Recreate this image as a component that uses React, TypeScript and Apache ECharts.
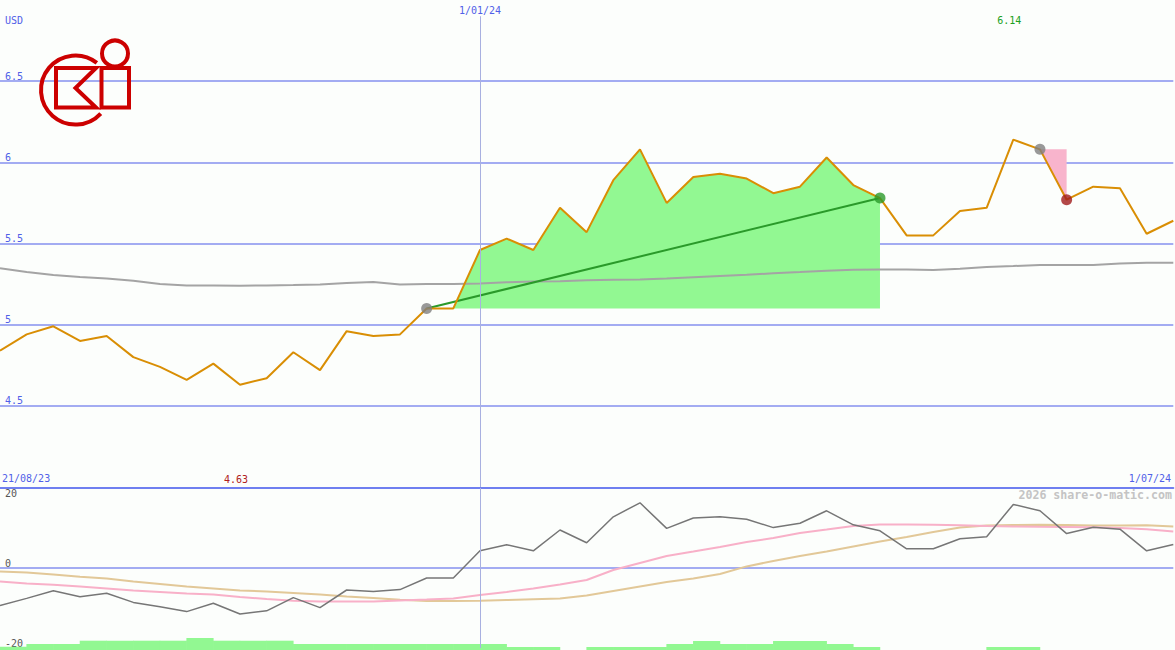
import React, { useEffect, useRef } from 'react';
import * as echarts from 'echarts';

// ---- data ----
const dates = [
  '28/08/23', '4/09/23', '11/09/23', '18/09/23', '25/09/23',
  '2/10/23', '9/10/23', '16/10/23', '23/10/23', '30/10/23',
  '6/11/23', '13/11/23', '20/11/23', '27/11/23',
  '4/12/23', '11/12/23', '18/12/23', '25/12/23',
  '1/01/24', '8/01/24', '15/01/24', '22/01/24', '29/01/24',
  '5/02/24', '12/02/24', '19/02/24', '26/02/24',
  '4/03/24', '11/03/24', '18/03/24', '25/03/24',
  '1/04/24', '8/04/24', '15/04/24', '22/04/24', '29/04/24',
  '6/05/24', '13/05/24', '20/05/24', '27/05/24',
  '3/06/24', '10/06/24', '17/06/24', '24/06/24',
  '1/07/24',
];
const rangeStartLabel = '21/08/23';
const markerDate = '1/01/24';
const currency = 'USD';
const watermark = '2026 share-o-matic.com';

const price = [
  4.84, 4.94, 4.99, 4.90, 4.93, 4.80, 4.74, 4.66, 4.76, 4.63,
  4.67, 4.83, 4.72, 4.96, 4.93, 4.94, 5.10, 5.10, 5.46, 5.53,
  5.46, 5.72, 5.57, 5.89, 6.08, 5.75, 5.91, 5.93, 5.90, 5.81,
  5.85, 6.03, 5.86, 5.78, 5.55, 5.55, 5.70, 5.72, 6.14, 6.08,
  5.77, 5.85, 5.84, 5.56, 5.64,
];
const movingAvg = [
  5.347, 5.324, 5.306, 5.294, 5.284, 5.271, 5.250, 5.241, 5.241, 5.239,
  5.242, 5.244, 5.247, 5.257, 5.263, 5.247, 5.250, 5.250, 5.254, 5.261,
  5.266, 5.267, 5.273, 5.276, 5.279, 5.284, 5.292, 5.300, 5.307, 5.317,
  5.324, 5.332, 5.339, 5.340, 5.340, 5.337, 5.345, 5.355, 5.361, 5.368,
  5.368, 5.368, 5.377, 5.382, 5.382,
];
const momentum = [
  -9.4, -7.6, -5.7, -7.2, -6.3, -8.6, -9.7, -10.9, -8.8, -11.5,
  -10.7, -7.4, -9.9, -5.5, -5.9, -5.4, -2.5, -2.5, 4.3, 5.8,
  4.3, 9.5, 6.3, 12.8, 16.3, 9.9, 12.5, 12.8, 12.2, 10.1,
  11.2, 14.3, 10.8, 9.3, 4.8, 4.8, 7.3, 7.8, 15.9, 14.3,
  8.6, 10.2, 9.7, 4.3, 5.9,
];
const signalFast = [
  -3.4, -3.9, -4.2, -4.6, -5.1, -5.6, -6.0, -6.4, -6.6, -7.25,
  -7.75, -8.2, -8.4, -8.4, -8.4, -8.1, -7.9, -7.6, -6.75, -6.0,
  -5.1, -4.1, -3.0, -0.5, 1.25, 3.0, 4.1, 5.25, 6.5, 7.5,
  8.75, 9.6, 10.5, 10.9, 10.9, 10.8, 10.7, 10.5, 10.4, 10.3,
  10.25, 10.2, 10.0, 9.7, 9.1,
];
const signalSlow = [
  -0.9, -1.1, -1.6, -2.2, -2.6, -3.4, -4.0, -4.6, -5.1, -5.6,
  -5.9, -6.25, -6.6, -7.1, -7.5, -7.95, -8.25, -8.25, -8.2, -8.0,
  -7.8, -7.6, -6.9, -5.75, -4.6, -3.5, -2.6, -1.5, 0.4, 1.75,
  3.0, 4.1, 5.4, 6.6, 7.75, 9.0, 10.1, 10.6, 10.75, 10.8,
  10.75, 10.6, 10.6, 10.7, 10.4,
];
// weekly volume (relative units), each bar covers the week after its date
const volume = [
  1.1, 2, 2, 3.1, 3.1, 3.1, 3.1, 4, 3.1, 3.1,
  3.1, 2, 2, 2, 2, 2, 2, 2, 2, 1,
  1, 0, 1, 1, 1, 2, 3, 2, 2, 3,
  3, 2, 1, 0, 0, 0, 0, 1, 1, 0,
  0, 0, 0, 0, 0,
];
const priceTicks = [4.5, 5, 5.5, 6, 6.5];
const momentumTicks = [-20, 0, 20];
const gainStart = 16;
const gainEnd = 33;
const dropStart = 39;
const dropEnd = 40;

const MONO = '"DejaVu Sans Mono", monospace';
const BLUE_TEXT = '#5060e8';
const GRID_LINE = '#a3acf2';
const RED = '#cc0000';
const PLOT_W = 1173.3;

export default function App() {
  const ref = useRef<HTMLDivElement>(null);

  useEffect(() => {
    if (!ref.current) return;
    const chart = echarts.init(ref.current, undefined, { renderer: 'svg' });

    const gainData = price.map((v, i) => (i >= gainStart && i <= gainEnd ? v : '-'));
    const dropData = price.map((v, i) => (i >= dropStart && i <= dropEnd ? v : '-'));
    const trendData = price.map((v, i) => (i === gainStart || i === gainEnd ? v : '-'));
    const volumeData = volume.map((v, i) => [i + 0.5, v]);
    let maxI = 0;
    let minI = 0;
    price.forEach((v, i) => {
      if (v > price[maxI]) maxI = i;
      if (v < price[minI]) minI = i;
    });

    const option: any = {
      animation: false,
      backgroundColor: '#fcfefc',
      grid: [
        { left: 0, top: 0, width: PLOT_W, height: 487 },
        { left: 0, top: 488, width: PLOT_W, height: 160 },
        { left: 0, top: 488, width: PLOT_W, height: 162 },
      ],
      xAxis: [
        {
          type: 'category', gridIndex: 0, data: dates, boundaryGap: false,
          axisLine: { show: false }, axisTick: { show: false }, axisLabel: { show: false }, splitLine: { show: false },
        },
        {
          type: 'category', gridIndex: 1, data: dates, boundaryGap: false, position: 'top',
          axisLine: { show: true, onZero: false, lineStyle: { color: '#6f7ff0', width: 2 } },
          axisTick: { show: false }, axisLabel: { show: false }, splitLine: { show: false },
        },
        {
          type: 'value', gridIndex: 2, min: 0, max: dates.length - 1, show: false,
        },
      ],
      yAxis: [
        {
          type: 'value', gridIndex: 0, min: 4, max: 7, interval: 0.5, position: 'left',
          axisLine: { show: false }, axisTick: { show: false },
          splitLine: { show: true, showMinLine: false, showMaxLine: false, lineStyle: { color: GRID_LINE, width: 2 } },
          axisLabel: {
            inside: true, margin: 5, verticalAlign: 'bottom', color: BLUE_TEXT, fontSize: 10, fontFamily: MONO,
            formatter: (v: number) => (priceTicks.includes(v) ? String(v) : ''),
          },
        },
        {
          type: 'value', gridIndex: 1, min: -20, max: 20, interval: 20, position: 'left',
          axisLine: { show: false }, axisTick: { show: false },
          splitLine: { show: true, showMinLine: false, showMaxLine: false, lineStyle: { color: GRID_LINE, width: 2 } },
          axisLabel: {
            inside: true, margin: 5, verticalAlign: 'bottom', color: '#555', fontSize: 10, fontFamily: MONO,
            formatter: (v: number) => (momentumTicks.includes(v) && v < 20 ? String(v) : ''),
          },
        },
        {
          type: 'value', gridIndex: 1, min: -20, max: 20, interval: 20, position: 'left', offset: 0,
          axisLine: { show: false }, axisTick: { show: false }, splitLine: { show: false },
          axisLabel: {
            inside: true, margin: 5, verticalAlign: 'top', color: '#555', fontSize: 10, fontFamily: MONO,
            formatter: (v: number) => (v === 20 ? String(v) : ''),
          },
        },
        { type: 'value', gridIndex: 2, min: 0, max: 54, show: false },
      ],
      series: [
        {
          type: 'bar', xAxisIndex: 2, yAxisIndex: 3, data: volumeData, barWidth: 27.2,
          itemStyle: { color: '#92f892' }, silent: true, z: 1,
        },
        {
          type: 'line', xAxisIndex: 0, yAxisIndex: 0, data: gainData, symbol: 'none', silent: true,
          lineStyle: { width: 0 }, areaStyle: { color: '#92f892', opacity: 1, origin: price[gainStart] }, z: 1,
        },
        {
          type: 'line', xAxisIndex: 0, yAxisIndex: 0, data: dropData, symbol: 'none', silent: true,
          lineStyle: { width: 0 }, areaStyle: { color: '#f8b4cc', opacity: 1, origin: price[dropStart] }, z: 1,
        },
        {
          type: 'line', xAxisIndex: 0, yAxisIndex: 0, data: movingAvg, symbol: 'none',
          lineStyle: { color: '#a4a4a4', width: 2 }, z: 2,
        },
        {
          type: 'line', xAxisIndex: 0, yAxisIndex: 0, data: trendData, symbol: 'none', connectNulls: true,
          lineStyle: { color: '#2a9a2a', width: 2 }, z: 3,
        },
        {
          type: 'line', xAxisIndex: 0, yAxisIndex: 0, data: price, symbol: 'none',
          lineStyle: { color: '#d98e04', width: 2 }, z: 4,
          markLine: {
            symbol: 'none', silent: true,
            lineStyle: { color: '#a8b0e0', width: 1, type: 'solid' },
            label: { show: true, position: 'start', formatter: markerDate, color: BLUE_TEXT, fontSize: 10, fontFamily: MONO, distance: 1 },
            data: [[{ coord: [markerDate, 6.9] }, { coord: [markerDate, 4] }]],
          },
          markPoint: {
            symbol: 'circle', symbolSize: 1, silent: true, itemStyle: { color: 'transparent' },
            label: { show: true, position: 'inside', fontSize: 10, fontFamily: MONO, offset: [-4, 0] },
            data: [
              { coord: [dates[maxI], 6.871], value: price[maxI].toFixed(2), label: { color: '#20a020', formatter: '{c}' } },
              { coord: [dates[minI], 4.049], value: price[minI].toFixed(2), label: { color: '#b02020', formatter: '{c}' } },
            ],
          },
        },
        {
          type: 'scatter', xAxisIndex: 0, yAxisIndex: 0, symbolSize: 11, z: 5, silent: true,
          data: [
            { value: [gainStart, price[gainStart]], itemStyle: { color: '#808080' } },
            { value: [gainEnd, price[gainEnd]], itemStyle: { color: '#2a9a2a' } },
            { value: [dropStart, price[dropStart]], itemStyle: { color: '#808080' } },
            { value: [dropEnd, price[dropEnd]], itemStyle: { color: '#a01c1c' } },
          ],
        },
        {
          type: 'line', xAxisIndex: 1, yAxisIndex: 1, data: signalSlow, symbol: 'none',
          lineStyle: { color: '#e2c898', width: 2 }, z: 2,
        },
        {
          type: 'line', xAxisIndex: 1, yAxisIndex: 1, data: signalFast, symbol: 'none',
          lineStyle: { color: '#f8b0c8', width: 2 }, z: 3,
        },
        {
          type: 'line', xAxisIndex: 1, yAxisIndex: 1, data: momentum, symbol: 'none',
          lineStyle: { color: '#767676', width: 1.5 }, z: 4,
          markLine: {
            symbol: 'none', silent: true, label: { show: false },
            lineStyle: { color: '#a8b0e0', width: 1, type: 'solid' },
            data: [{ xAxis: markerDate }],
          },
        },
      ],
      graphic: [
        { type: 'text', left: 5, top: 15, style: { text: currency, fill: BLUE_TEXT, font: `10px ${MONO}` } },
        { type: 'text', left: 2, top: 473, style: { text: rangeStartLabel, fill: BLUE_TEXT, font: `10px ${MONO}` } },
        { type: 'text', right: 4, top: 473, style: { text: dates[dates.length - 1], fill: BLUE_TEXT, font: `10px ${MONO}` } },
        { type: 'text', right: 3, top: 489, style: { text: watermark, fill: '#c4c4c4', font: `bold 11.6px ${MONO}` } },
        {
          type: 'arc', shape: { cx: 75.5, cy: 90, r: 34.5, startAngle: 0.75, endAngle: 5.38, clockwise: true },
          style: { stroke: RED, lineWidth: 4, fill: 'none' }, z: 10,
        },
        {
          type: 'polygon', shape: { points: [[56, 68], [96, 68], [75.5, 88], [96, 107.5], [56, 107.5]] },
          style: { stroke: RED, lineWidth: 4, fill: 'none' }, z: 10,
        },
        {
          type: 'rect', shape: { x: 101.5, y: 68, width: 27.5, height: 39.5 },
          style: { stroke: RED, lineWidth: 4, fill: 'none' }, z: 10,
        },
        {
          type: 'circle', shape: { cx: 115, cy: 53.5, r: 13 },
          style: { stroke: RED, lineWidth: 4, fill: 'none' }, z: 10,
        },
      ],
    };

    chart.setOption(option);
    return () => chart.dispose();
  }, []);

  return (
    <div
      ref={ref}
      style={{ position: 'fixed', left: 0, top: 0, width: 1175, height: 650 }}
    />
  );
}
